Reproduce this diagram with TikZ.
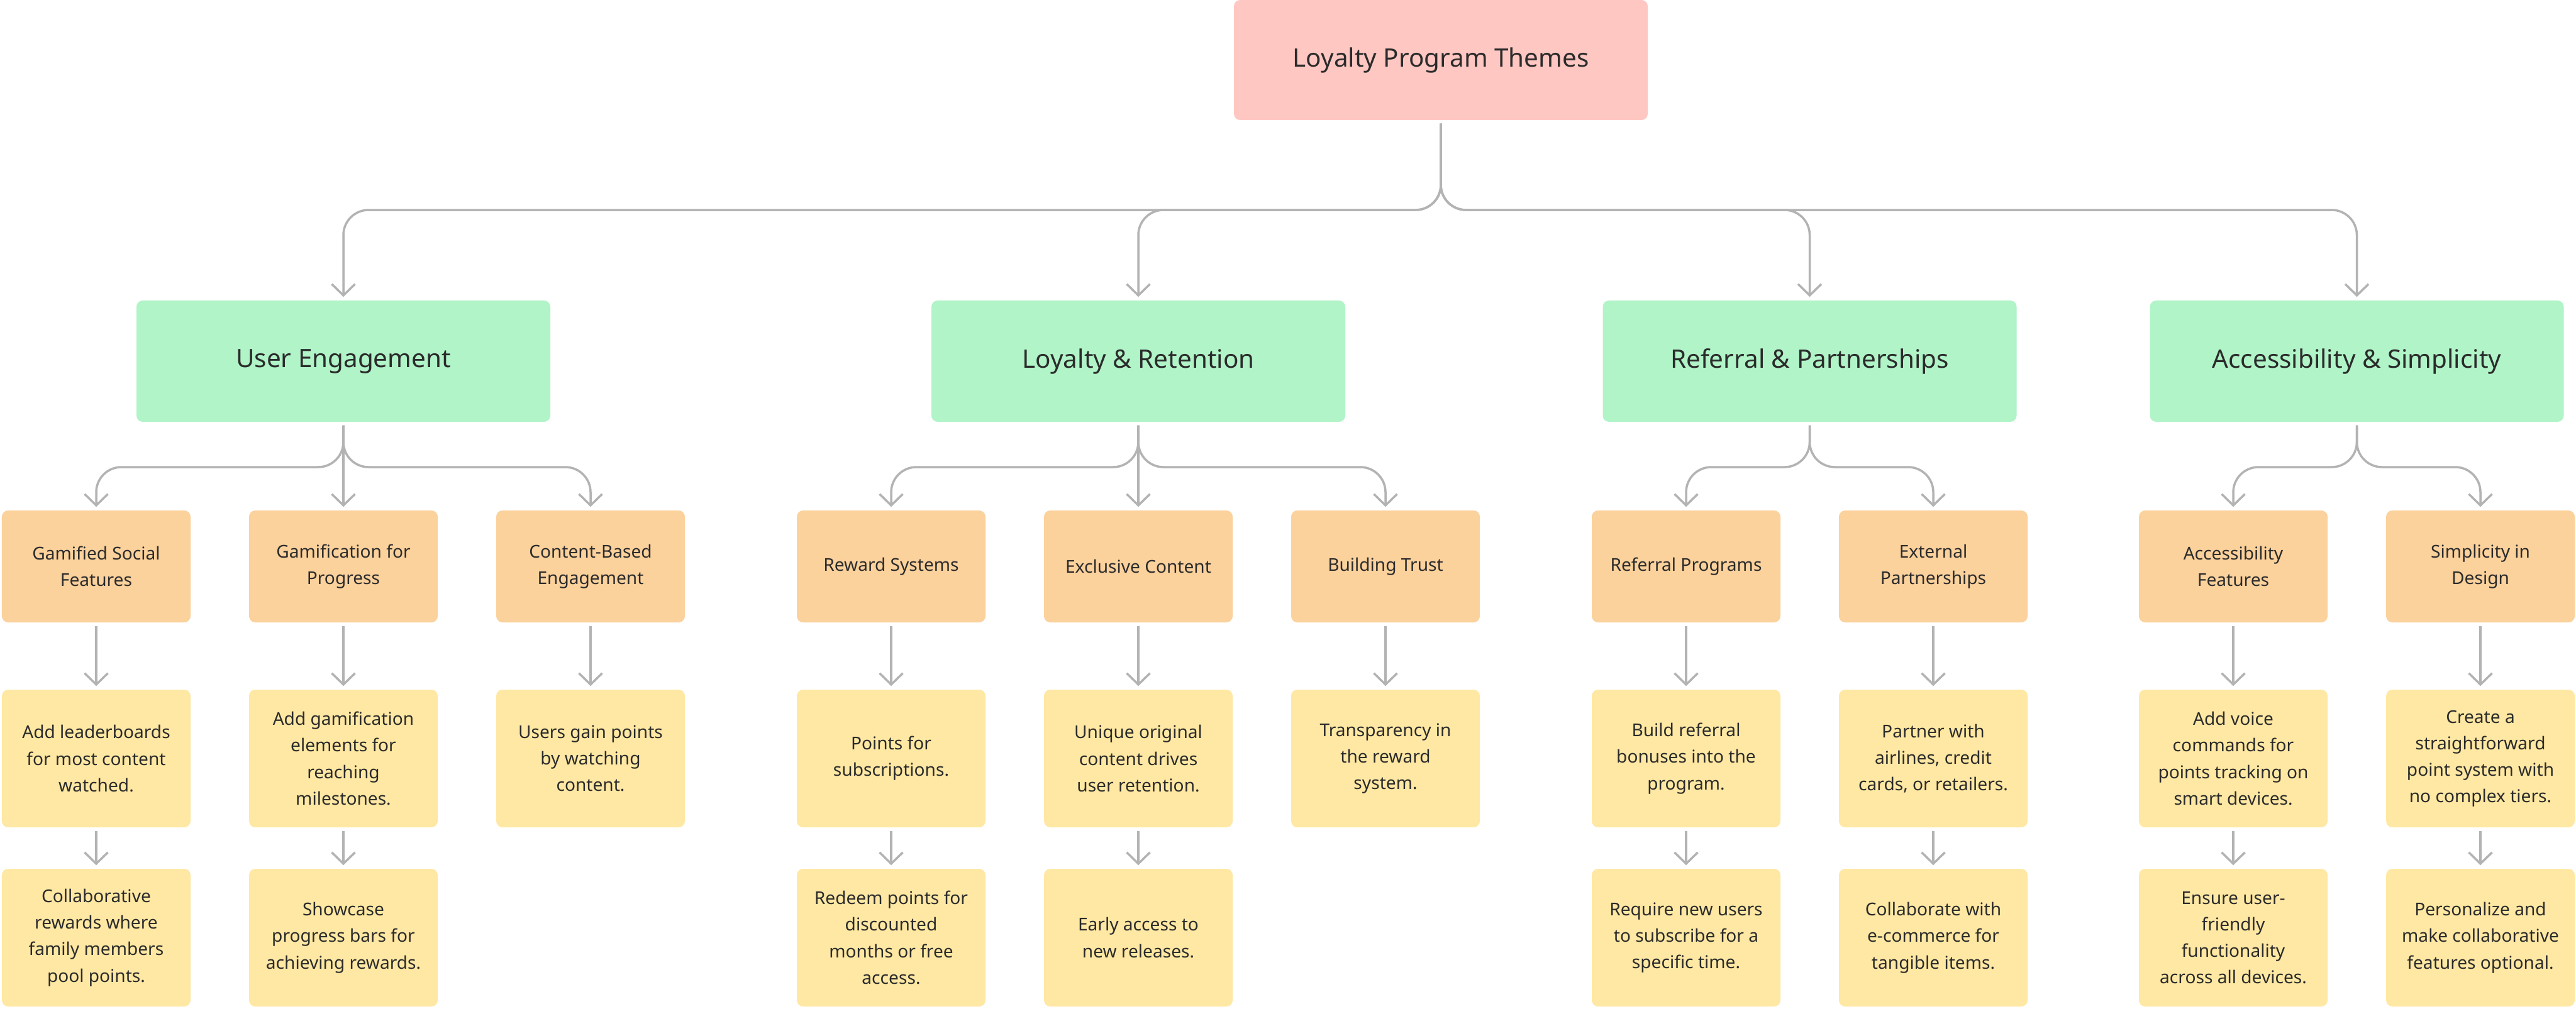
\documentclass[tikz,border=0pt]{standalone}
\usepackage{fontspec}
\setmainfont{Noto Sans}
\usetikzlibrary{arrows.meta}

\definecolor{rootpink}{HTML}{FFC7C2}
\definecolor{themegreen}{HTML}{B0F4C8}
\definecolor{suborange}{HTML}{FBD19C}
\definecolor{ideayellow}{HTML}{FFE8A3}
\definecolor{linegray}{HTML}{B3B3B3}
\definecolor{textdark}{HTML}{2B2B2B}

\begin{document}
\begin{tikzpicture}[
    % Box styles
    rootbox/.style={fill=rootpink, rounded corners=0.1cm, minimum width=6.58cm, minimum height=1.91cm, text=textdark, font=\fontsize{11.5}{14}\selectfont},
    themebox/.style={rootbox, fill=themegreen, minimum height=1.93cm},
    subbox/.style={fill=suborange, rounded corners=0.1cm, minimum width=3cm, minimum height=1.78cm, align=center, text=textdark, font=\fontsize{8}{12}\selectfont},
    ideabox/.style={subbox, fill=ideayellow, minimum height=2.19cm},
    conn/.style={draw=linegray, line width=0.035cm, rounded corners=0.4cm, -{Straight Barb[length=0.18cm, width=0.37cm]}, shorten <=0.05cm, shorten >=0.05cm}
]

% 0. Page frame
\fill[white] (0,0) rectangle (40.96,-16.05);
\useasboundingbox (0,0) rectangle (40.96,-16.05);

% 1. Root
\node[rootbox] (root) at (22.91,-0.955) {Loyalty Program Themes};

% 2. Themes
\node[themebox] (ue) at (5.46,-5.745) {User Engagement};
\node[themebox] (lr) at (18.10,-5.745) {Loyalty \& Retention};
\node[themebox] (rp) at (28.775,-5.745) {Referral \& Partnerships};
\node[themebox] (as) at (37.475,-5.745) {Accessibility \& Simplicity};

% 3. Sub-themes
\node[subbox] (gsf) at (1.53,-9.01) {Gamified Social\\Features};
\node[subbox] (gfp) at (5.46,-9.01) {Gamification for\\Progress};
\node[subbox] (cbe) at (9.39,-9.01) {Content-Based\\Engagement};
\node[subbox] (rws) at (14.17,-9.01) {Reward Systems};
\node[subbox] (exc) at (18.10,-9.01) {Exclusive Content};
\node[subbox] (bdt) at (22.03,-9.01) {Building Trust};
\node[subbox] (rfp) at (26.81,-9.01) {Referral Programs};
\node[subbox] (exp) at (30.74,-9.01) {External\\Partnerships};
\node[subbox] (acf) at (35.51,-9.01) {Accessibility\\Features};
\node[subbox] (sid) at (39.44,-9.01) {Simplicity in\\Design};

% 4. First ideas
\node[ideabox] (gsf1) at (1.53,-12.065) {Add leaderboards\\for most content\\watched.};
\node[ideabox] (gfp1) at (5.46,-12.065) {Add gamification\\elements for\\reaching\\milestones.};
\node[ideabox] (cbe1) at (9.39,-12.065) {Users gain points\\by watching\\content.};
\node[ideabox] (rws1) at (14.17,-12.065) {Points for\\subscriptions.};
\node[ideabox] (exc1) at (18.10,-12.065) {Unique original\\content drives\\user retention.};
\node[ideabox] (bdt1) at (22.03,-12.065) {Transparency in\\the reward\\system.};
\node[ideabox] (rfp1) at (26.81,-12.065) {Build referral\\bonuses into the\\program.};
\node[ideabox] (exp1) at (30.74,-12.065) {Partner with\\airlines, credit\\cards, or retailers.};
\node[ideabox] (acf1) at (35.51,-12.065) {Add voice\\commands for\\points tracking on\\smart devices.};
\node[ideabox] (sid1) at (39.44,-12.065) {Create a\\straightforward\\point system with\\no complex tiers.};

% 5. Second ideas
\node[ideabox] (gsf2) at (1.53,-14.915) {Collaborative\\rewards where\\family members\\pool points.};
\node[ideabox] (gfp2) at (5.46,-14.915) {Showcase\\progress bars for\\achieving rewards.};
\node[ideabox] (rws2) at (14.17,-14.915) {Redeem points for\\discounted\\months or free\\access.};
\node[ideabox] (exc2) at (18.10,-14.915) {Early access to\\new releases.};
\node[ideabox] (rfp2) at (26.81,-14.915) {Require new users\\to subscribe for a\\specific time.};
\node[ideabox] (exp2) at (30.74,-14.915) {Collaborate with\\e-commerce for\\tangible items.};
\node[ideabox] (acf2) at (35.51,-14.915) {Ensure user-\\friendly\\functionality\\across all devices.};
\node[ideabox] (sid2) at (39.44,-14.915) {Personalize and\\make collaborative\\features optional.};

% 6. Branch lines
\coordinate (bus0) at (0,-3.34);
\coordinate (bus1) at (0,-7.43);

\draw[conn] (root.south) -- (root.south |- bus0) -| (ue.north);
\draw[conn] (root.south) -- (root.south |- bus0) -| (lr.north);
\draw[conn] (root.south) -- (root.south |- bus0) -| (rp.north);
\draw[conn] (root.south) -- (root.south |- bus0) -| (as.north);

\draw[conn] (ue.south) -- (ue.south |- bus1) -| (gsf.north);
\draw[conn] (ue.south) -- (gfp.north);
\draw[conn] (ue.south) -- (ue.south |- bus1) -| (cbe.north);

\draw[conn] (lr.south) -- (lr.south |- bus1) -| (rws.north);
\draw[conn] (lr.south) -- (exc.north);
\draw[conn] (lr.south) -- (lr.south |- bus1) -| (bdt.north);

\draw[conn] (rp.south) -- (rp.south |- bus1) -| (rfp.north);
\draw[conn] (rp.south) -- (rp.south |- bus1) -| (exp.north);

\draw[conn] (as.south) -- (as.south |- bus1) -| (acf.north);
\draw[conn] (as.south) -- (as.south |- bus1) -| (sid.north);

% 7. Straight arrows down the columns
\draw[conn] (gsf.south) -- (gsf1.north);
\draw[conn] (gfp.south) -- (gfp1.north);
\draw[conn] (cbe.south) -- (cbe1.north);
\draw[conn] (rws.south) -- (rws1.north);
\draw[conn] (exc.south) -- (exc1.north);
\draw[conn] (bdt.south) -- (bdt1.north);
\draw[conn] (rfp.south) -- (rfp1.north);
\draw[conn] (exp.south) -- (exp1.north);
\draw[conn] (acf.south) -- (acf1.north);
\draw[conn] (sid.south) -- (sid1.north);

\draw[conn] (gsf1.south) -- (gsf2.north);
\draw[conn] (gfp1.south) -- (gfp2.north);
\draw[conn] (rws1.south) -- (rws2.north);
\draw[conn] (exc1.south) -- (exc2.north);
\draw[conn] (rfp1.south) -- (rfp2.north);
\draw[conn] (exp1.south) -- (exp2.north);
\draw[conn] (acf1.south) -- (acf2.north);
\draw[conn] (sid1.south) -- (sid2.north);

\end{tikzpicture}
\end{document}
